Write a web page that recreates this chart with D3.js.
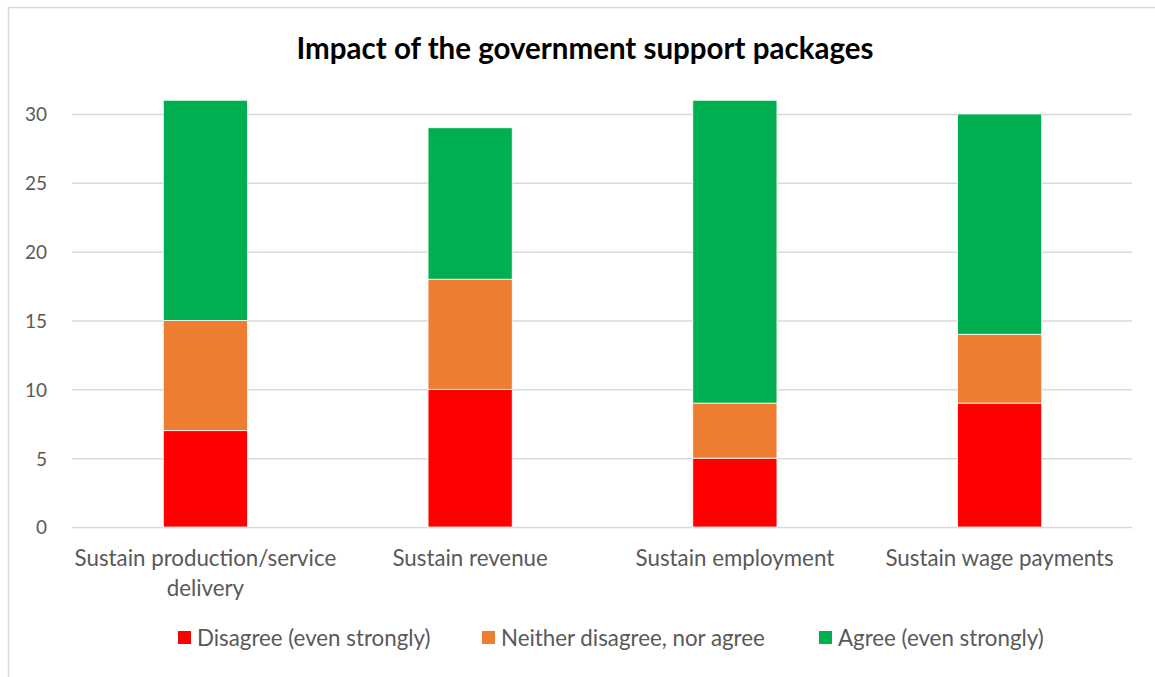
<!DOCTYPE html>
<html>
<head>
<meta charset="utf-8">
<script src="https://cdn.jsdelivr.net/npm/d3@7/dist/d3.min.js"></script>
<style>
  html, body { margin: 0; padding: 0; background: #fff; }
  svg { display: block; font-family: Lato, "Open Sans", sans-serif; }
</style>
</head>
<body>
<svg id="chart" width="1155" height="677"></svg>
<script>
// Survey responses per support-package objective
const categories = [
  ["Sustain production/service", "delivery"],
  ["Sustain revenue"],
  ["Sustain employment"],
  ["Sustain wage payments"]
];
const seriesNames = ["Disagree (even strongly)", "Neither disagree, nor agree", "Agree (even strongly)"];
const seriesColors = ["#ff0000", "#ed7d31", "#00b050"];
const disagree = [7, 10, 5, 9];
const neither = [8, 8, 4, 5];
const agree = [16, 11, 22, 16];
const yTicks = [0, 5, 10, 15, 20, 25, 30];

const svg = d3.select("#chart");

// outer frame
svg.append("rect")
  .attr("x", 8.5).attr("y", 7.5)
  .attr("width", 1160).attr("height", 680)
  .attr("fill", "#fff").attr("stroke", "#d9d9d9").attr("stroke-width", 1.5);

const margin = { left: 73, right: 1132, top: 114, bottom: 527 };

const rows = categories.map((c, i) => ({
  key: i, label: c,
  s0: disagree[i], s1: neither[i], s2: agree[i]
}));

const x = d3.scaleBand()
  .domain(rows.map(d => d.key))
  .range([margin.left, margin.right])
  .paddingInner(0.682).paddingOuter(0.341);

const y = d3.scaleLinear().domain([0, 30]).range([margin.bottom, margin.top]);

// gridlines
svg.append("g")
  .selectAll("line").data(yTicks).join("line")
  .attr("x1", margin.left - 1).attr("x2", margin.right)
  .attr("y1", d => y(d) + 0.5).attr("y2", d => y(d) + 0.5)
  .attr("stroke", "#d9d9d9").attr("stroke-width", 1.5);

// y axis labels
const yAxis = d3.axisLeft(y).tickValues(yTicks).tickSize(0).tickPadding(0);
const gy = svg.append("g").attr("transform", "translate(47,0)").call(yAxis);
gy.select(".domain").remove();
gy.selectAll("text")
  .attr("font-size", 19).attr("fill", "#595959")
  .attr("font-family", "Lato, 'Open Sans', sans-serif")
  .attr("dy", "0.36em");

// stacked bars
const stack = d3.stack().keys(["s0", "s1", "s2"]);
const layers = stack(rows);
svg.append("g")
  .selectAll("g").data(layers).join("g")
  .attr("fill", (d, i) => seriesColors[i])
  .selectAll("rect").data(d => d).join("rect")
  .attr("x", d => x(d.data.key))
  .attr("width", x.bandwidth())
  .attr("y", d => y(d[1]))
  .attr("height", d => y(d[0]) - y(d[1]))
  .attr("stroke", "#fff").attr("stroke-width", 0.8);

// category labels
const xAxis = d3.axisBottom(x).tickSize(0).tickFormat(() => "");
const gx = svg.append("g").attr("transform", `translate(0,${margin.bottom})`).call(xAxis);
gx.select(".domain").remove();
gx.selectAll(".tick").each(function(k) {
  const t = d3.select(this).select("text")
    .attr("font-size", 22.3).attr("fill", "#595959")
    .attr("font-family", "Lato, 'Open Sans', sans-serif")
    .attr("y", 0).attr("dy", 0);
  t.selectAll("tspan").data(categories[k]).join("tspan")
    .attr("x", 0).attr("y", (d, i) => 39 + i * 29.5)
    .text(d => d);
});

// title
svg.append("text")
  .attr("x", 585).attr("y", 59)
  .attr("text-anchor", "middle")
  .attr("font-size", 29.5).attr("font-weight", "bold").attr("fill", "#000")
  .text("Impact of the government support packages");

// legend
const legendX = [178, 482, 819];
const lg = svg.append("g").selectAll("g").data(seriesNames).join("g")
  .attr("transform", (d, i) => `translate(${legendX[i]},631)`);
lg.append("rect").attr("width", 13).attr("height", 13)
  .attr("fill", (d, i) => seriesColors[i]);
lg.append("text")
  .attr("x", 19).attr("y", 6.5).attr("dy", "0.36em")
  .attr("font-size", 22.3).attr("fill", "#595959")
  .text(d => d);
</script>
</body>
</html>
